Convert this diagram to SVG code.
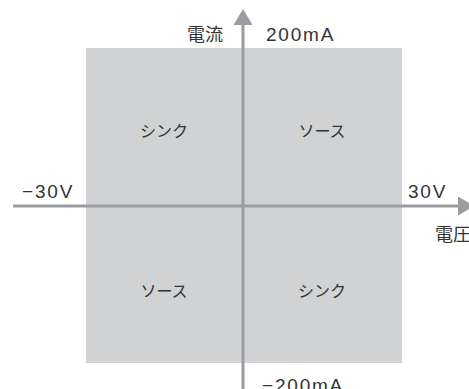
<svg xmlns="http://www.w3.org/2000/svg" width="469" height="389" viewBox="0 0 469 389">
<style>
.lat{font-family:"Liberation Sans","Noto Sans CJK JP",sans-serif;font-size:19px;fill:#333;letter-spacing:1.8px}
.jp{font-family:"Noto Sans CJK JP",sans-serif;font-size:18px;fill:#333}
.q{font-family:"Noto Sans CJK JP",sans-serif;font-size:16px;fill:#333;text-anchor:middle}
.axis{stroke:#9b9c9f;stroke-width:3;fill:none}
</style>
<defs>
<marker id="arr" markerUnits="userSpaceOnUse" markerWidth="16" markerHeight="19" refX="0" refY="9.5" orient="auto">
<path d="M0,0 L16,9.5 L0,19 z" fill="#9b9c9f"/>
</marker>
</defs>
<rect id="plane" x="86" y="48" width="316" height="315" fill="#d1d2d4"/>
<g id="q1"><text class="q" x="322" y="137">ソース</text></g>
<g id="q2"><text class="q" x="164" y="137">シンク</text></g>
<g id="q3"><text class="q" x="164" y="297">ソース</text></g>
<g id="q4"><text class="q" x="322" y="297">シンク</text></g>
<g id="connectors">
<line class="axis" x1="13" y1="206" x2="458" y2="206" marker-end="url(#arr)"/>
<line class="axis" x1="243" y1="389" x2="243" y2="25" marker-end="url(#arr)"/>
</g>
<g id="labels">
<text class="jp" x="223" y="41" text-anchor="end">電流</text>
<text class="lat" x="266" y="41">200mA</text>
<text class="lat" x="22" y="198">−30V</text>
<text class="lat" x="408" y="198">30V</text>
<text class="jp" x="435" y="241">電圧</text>
<text class="lat" x="262" y="392">−200mA</text>
</g>
</svg>
